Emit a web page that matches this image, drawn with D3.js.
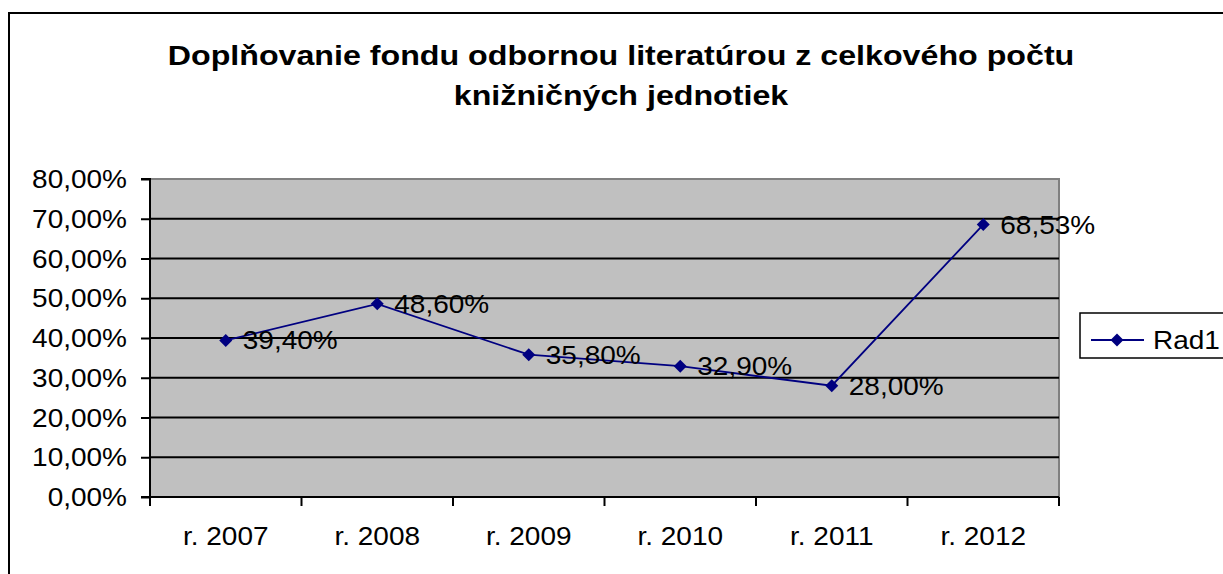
<!DOCTYPE html>
<html>
<head>
<meta charset="utf-8">
<script src="https://cdn.jsdelivr.net/npm/d3@7"></script>
<style>
  html, body { margin: 0; padding: 0; background: #fff; }
  text { font-family: "Liberation Sans", Arial, sans-serif; }
</style>
</head>
<body>
<div id="graph"></div>
<script>
// Chart data
const titleLines = ['Doplňovanie fondu odbornou literatúrou z celkového počtu', 'knižničných jednotiek'];
const years = ['r. 2007', 'r. 2008', 'r. 2009', 'r. 2010', 'r. 2011', 'r. 2012'];
const values = [39.40, 48.60, 35.80, 32.90, 28.00, 68.53];
const yTicks = [0, 10, 20, 30, 40, 50, 60, 70, 80];
const seriesName = 'Rad1';

drawChart();

function drawChart() {
  const width = 1223;
  const height = 574;
  const stretch = 1.12; // text in the picture is a bit wider than tall
  const lineColor = '#000080';

  const plot = { left: 150, right: 1059, top: 179, bottom: 497 };

  const svg = d3.select('#graph')
      .append('svg')
      .attr('width', width)
      .attr('height', height);

  // outer border of the chart
  svg.append('rect')
      .attr('x', 9).attr('y', 13)
      .attr('width', 1230).attr('height', 580)
      .attr('fill', '#fff')
      .attr('stroke', '#000')
      .attr('stroke-width', 2);

  // helper for stretched text
  function label(g, x, y, txt, size, anchor, weight, sx) {
    return g.append('text')
        .attr('transform', 'translate(' + x + ',' + y + ') scale(' + (sx || stretch) + ',1)')
        .attr('text-anchor', anchor || 'start')
        .attr('font-size', size)
        .attr('font-weight', weight || 'normal')
        .attr('fill', '#000')
        .text(txt);
  }

  // title
  titleLines.forEach(function(t, i) {
    label(svg, 621, 65 + i * 40, t, 28.5, 'middle', 'bold', 1.13);
  });

  const x = d3.scaleBand()
      .domain(years)
      .range([plot.left, plot.right]);

  const y = d3.scaleLinear()
      .domain([0, 80])
      .range([plot.bottom, plot.top]);

  // plot area
  svg.append('rect')
      .attr('x', plot.left).attr('y', plot.top)
      .attr('width', plot.right - plot.left)
      .attr('height', plot.bottom - plot.top)
      .attr('fill', '#c0c0c0')
      .attr('stroke', '#808080')
      .attr('stroke-width', 2);

  // gridlines
  svg.append('g')
      .selectAll('line')
      .data(yTicks.filter(function(d) { return d > 0 && d < 80; }))
      .enter()
      .append('line')
      .attr('x1', plot.left).attr('x2', plot.right)
      .attr('y1', function(d) { return y(d); })
      .attr('y2', function(d) { return y(d); })
      .attr('stroke', '#000')
      .attr('stroke-width', 2);

  // y axis
  const yAxis = svg.append('g')
      .attr('transform', 'translate(' + plot.left + ',0)')
      .call(d3.axisLeft(y).tickValues(yTicks).tickSize(9).tickFormat(''));
  yAxis.selectAll('path, line').attr('stroke', '#000').attr('stroke-width', 2);
  yAxis.select('.domain').attr('d', 'M-9,' + plot.top + 'H0V' + plot.bottom + 'H-9');

  yTicks.forEach(function(d) {
    label(svg, 127, y(d) + 9, d3.format('.2f')(d).replace('.', ',') + '%', 25, 'end');
  });

  // x axis
  const xAxis = svg.append('g')
      .attr('transform', 'translate(0,' + plot.bottom + ')')
      .call(d3.axisBottom(x).tickSize(0).tickFormat(''));
  xAxis.select('.domain').attr('stroke', '#000').attr('stroke-width', 2)
      .attr('d', 'M' + plot.left + ',0H' + plot.right);

  const bounds = years.map(function(d) { return x(d); }).concat([plot.right]);
  svg.append('g')
      .selectAll('line')
      .data(bounds)
      .enter()
      .append('line')
      .attr('x1', function(d) { return d; })
      .attr('x2', function(d) { return d; })
      .attr('y1', plot.bottom)
      .attr('y2', plot.bottom + 9)
      .attr('stroke', '#000')
      .attr('stroke-width', 2);

  years.forEach(function(d) {
    label(svg, x(d) + x.bandwidth() / 2, 545, d, 25, 'middle');
  });

  // series line
  const cx = function(d, i) { return x(years[i]) + x.bandwidth() / 2; };
  const line = d3.line()
      .x(cx)
      .y(function(d) { return y(d); });

  svg.append('path')
      .datum(values)
      .attr('d', line)
      .attr('fill', 'none')
      .attr('stroke', lineColor)
      .attr('stroke-width', 1.8);

  const diamond = 'M0,-6.5L6.5,0L0,6.5L-6.5,0Z';

  svg.append('g')
      .selectAll('path')
      .data(values)
      .enter()
      .append('path')
      .attr('transform', function(d, i) { return 'translate(' + cx(d, i) + ',' + y(d) + ')'; })
      .attr('d', diamond)
      .attr('fill', lineColor);

  // data labels
  values.forEach(function(d, i) {
    label(svg, cx(d, i) + 17, y(d) + 9, d3.format('.2f')(d).replace('.', ',') + '%', 25, 'start');
  });

  // legend
  const legend = svg.append('g');
  legend.append('rect')
      .attr('x', 1080).attr('y', 313)
      .attr('width', 160).attr('height', 45)
      .attr('fill', '#fff')
      .attr('stroke', '#000')
      .attr('stroke-width', 1.5);
  legend.append('line')
      .attr('x1', 1091).attr('x2', 1144)
      .attr('y1', 340).attr('y2', 340)
      .attr('stroke', lineColor)
      .attr('stroke-width', 1.8);
  legend.append('path')
      .attr('transform', 'translate(1117,340)')
      .attr('d', diamond)
      .attr('fill', lineColor);
  label(legend, 1153, 349, seriesName, 25, 'start');
}
</script>
</body>
</html>
